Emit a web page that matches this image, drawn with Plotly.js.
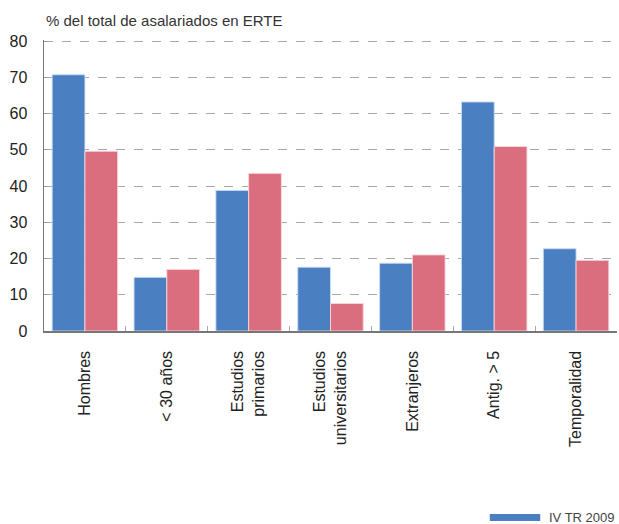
<!DOCTYPE html>
<html>
<head>
<meta charset="utf-8">
<script src="https://cdn.plot.ly/plotly-3.0.1.min.js"></script>
<style>html,body{margin:0;padding:0;background:#fff;}#chart{width:619px;height:524px;}</style>
</head>
<body>
<div id="chart"></div>
<script>
const categories = ["Hombres", "< 30 años", "Estudios<br>primarios", "Estudios<br>universitarios", "Extranjeros", "Antig. > 5", "Temporalidad"];
const seriesNames = ["IV TR 2009", "Serie 2"];
const serie2009 = [70.7, 14.8, 38.8, 17.6, 18.7, 63.2, 22.7];
const serie2 = [49.6, 17.0, 43.5, 7.6, 21.0, 50.9, 19.5];
const yTicks = [0, 10, 20, 30, 40, 50, 60, 70, 80];
const yTitle = "% del total de asalariados en ERTE";

const blue = "#4a7fc1", pink = "#db6e7e";
const FONT = "Liberation Sans, Arial, sans-serif";

const traces = [
  {type: "bar", x: categories, y: serie2009, name: seriesNames[0],
   marker: {color: blue, line: {color: "rgba(200,220,245,0.9)", width: 1}}, showlegend: false},
  {type: "bar", x: categories, y: serie2, name: seriesNames[1],
   marker: {color: pink, line: {color: "rgba(250,215,220,0.9)", width: 1}}, showlegend: false}
];

const layout = {
  width: 619, height: 524,
  margin: {l: 44, r: 2, t: 40, b: 193},
  paper_bgcolor: "#fff", plot_bgcolor: "#fff",
  barmode: "group", bargap: 0.2, bargroupgap: 0,
  font: {family: FONT, color: "#222"},
  xaxis: {
    type: "category", tickangle: -90,
    showline: true, linecolor: "#777", linewidth: 1.5,
    ticks: "inside", tickson: "boundaries", ticklen: 5, tickcolor: "#aaa",
    tickfont: {size: 16, color: "#222", family: FONT},
    ticklabelstandoff: 12,
    showgrid: false
  },
  yaxis: {
    range: [0, 80.3], tickvals: yTicks,
    showline: true, linecolor: "#777", linewidth: 1.5,
    ticks: "inside", ticklen: 4, tickcolor: "#999",
    tickfont: {size: 16, color: "#222", family: FONT},
    ticklabelstandoff: 12,
    showgrid: true, gridcolor: "#a8a8a8", griddash: "dash", gridwidth: 1,
    zeroline: false
  },
  shapes: [
    {type: "rect", xref: "paper", yref: "paper", x0: 0.778, x1: 0.866, y0: -0.629, y1: -0.653,
     fillcolor: blue, line: {width: 0}}
  ],
  annotations: [
    {xref: "paper", yref: "paper", x: 0, y: 1, yshift: 30, xanchor: "left", yanchor: "top",
     text: yTitle, showarrow: false, font: {size: 15, color: "#333", family: FONT}},
    {xref: "paper", yref: "paper", x: 0.878, y: -0.641, xanchor: "left", yanchor: "middle",
     text: seriesNames[0], showarrow: false,
     font: {size: 13, color: "#444", family: "Liberation Sans Narrow, Arial Narrow, sans-serif"}}
  ]
};

Plotly.newPlot("chart", traces, layout, {displayModeBar: false, staticPlot: true});
</script>
</body>
</html>
